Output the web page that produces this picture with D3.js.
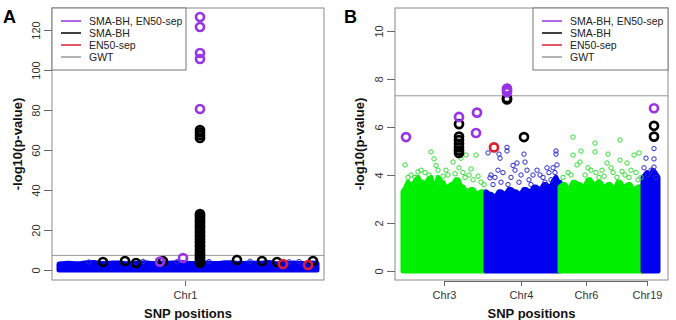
<!DOCTYPE html>
<html><head><meta charset="utf-8">
<script src="https://cdn.jsdelivr.net/npm/d3@7"></script>
<style>body{margin:0;background:#fff} svg{display:block} text{font-family:"Liberation Sans",Arial,sans-serif}</style>
</head><body><svg id="c" width="676" height="320"></svg>
<script>
// ---------------- DATA ----------------
const legendNames = ["SMA-BH, EN50-sep", "SMA-BH", "EN50-sep", "GWT"];
const gwtThreshold = 7.3;

// Panel A (chromosome 1 only)
const aChroms = ["Chr1"];
const aTickPos = [126];
const aYTicks = [0, 20, 40, 60, 80, 100, 120];
const aEnvPos = [0, 6, 10, 16, 22, 28, 35, 41, 48, 54, 60, 66, 73, 79, 86, 92, 98, 104, 110, 117, 123, 129, 135, 141, 148, 154, 160, 166, 172, 179, 185, 191, 197, 204, 210, 216, 222, 228, 235, 241, 247, 252, 258];
const aEnvTop = [3.0, 3.3, 3.4, 3.1, 3.2, 3.6, 3.7, 3.3, 3.3, 3.5, 3.5, 3.2, 3.1, 3.4, 3.6, 3.3, 3.3, 3.5, 3.4, 3.6, 3.8, 3.4, 3.2, 3.5, 3.5, 3.3, 3.3, 3.6, 3.6, 3.3, 3.2, 3.5, 3.4, 3.5, 3.7, 3.3, 3.1, 3.4, 3.5, 3.2, 3.3, 3.5, 3.4];
const aScatter = [[191, 4.4], [150, 4.2], [84, 4.3], [230, 4.1], [30, 4.0], [118, 4.1], [240, 4.2]];
const aSmaBh = [[44, 4.0], [66, 4.5], [77, 3.5], [104, 4.4],
  [141, 3.6], [141, 4.5], [141, 5.6], [141, 6.4], [141, 7.5], [141, 8.3], [141, 9.4], [141, 10.2], [141, 11.5],
  [141, 12.3], [141, 13.6], [141, 14.4], [141, 15.5], [141, 16.6], [141, 17.3], [141, 18.5], [141, 19.4],
  [141, 20.6], [141, 21.5], [141, 22.4], [141, 23.6], [141, 24.5], [141, 25.4], [141, 26.5], [141, 27.3], [141, 28.0],
  [141, 66.0], [141, 67.4], [141, 68.8], [141, 70.0],
  [178, 5.0], [203, 4.5], [218, 4.0], [254, 4.5]];
const aEn50 = [[224, 3.0], [249, 2.5]];
const aBoth = [[101, 4.2], [124, 6.0], [141, 80.5], [141, 105.5], [141, 108.5], [141, 121.5], [141, 126.5]];

// Panel B (chromosomes 3, 4, 6, 19)
const bChroms = ["Chr3", "Chr4", "Chr6", "Chr19"];
const bTickPos = [41, 118, 183, 244];
const bYTicks = [0, 2, 4, 6, 8, 10];
const bEnvPos = [
  [0, 3, 5, 8, 10, 13, 15, 18, 20, 23, 25, 28, 30, 33, 35, 38, 40, 43, 45, 48, 50, 53, 55, 58, 60, 63, 65, 68, 70, 73, 75, 78, 80, 83],
  [83, 86, 88, 91, 93, 96, 98, 101, 103, 106, 108, 111, 113, 116, 118, 121, 123, 126, 128, 131, 133, 136, 138, 141, 143, 146, 148, 151, 153, 155, 157],
  [157, 160, 162, 165, 167, 170, 172, 175, 177, 180, 182, 185, 187, 190, 192, 195, 197, 200, 202, 205, 207, 210, 212, 215, 217, 220, 222, 225, 227, 230, 232, 235, 237, 240],
  [240, 242, 244, 246, 248, 250, 252, 255]];
const bEnvTop = [
  [3.3, 3.5, 3.7, 3.5, 3.6, 3.8, 3.9, 3.6, 3.7, 3.5, 3.8, 3.9, 3.6, 3.5, 3.9, 3.7, 3.7, 3.4, 3.5, 3.6, 3.6, 3.8, 3.8, 3.5, 3.5, 3.3, 3.3, 3.4, 3.4, 3.2, 3.2, 3.3, 3.3, 3.1],
  [3.3, 3.2, 3.2, 3.1, 3.1, 3.3, 3.3, 3.2, 3.2, 3.4, 3.4, 3.3, 3.3, 3.2, 3.2, 3.4, 3.4, 3.3, 3.3, 3.5, 3.5, 3.4, 3.4, 3.6, 3.6, 3.5, 3.5, 3.8, 3.9, 3.7, 3.7],
  [3.5, 3.6, 3.6, 3.4, 3.4, 3.7, 3.7, 3.6, 3.6, 3.5, 3.5, 3.8, 3.8, 3.6, 3.6, 3.7, 3.7, 3.5, 3.5, 3.6, 3.6, 3.4, 3.4, 3.7, 3.7, 3.5, 3.5, 3.6, 3.6, 3.4, 3.4, 3.5, 3.5, 3.6],
  [3.9, 4.0, 4.1, 4.0, 4.0, 4.2, 4.1, 3.9]];
const bScatterGreen = [[28, 4.96], [31, 4.67], [63, 4.83], [73, 4.83], [2, 4.42], [15, 4.13], [50, 4.54],
  [8, 4.0], [12, 3.9], [22, 4.1], [35, 4.2], [40, 3.95], [45, 4.0], [56, 4.3], [58, 4.7], [60, 4.1], [66, 4.0], [70, 3.8], [78, 3.7],
  [5, 3.9], [18, 4.2], [26, 4.0], [33, 4.4], [43, 4.2], [52, 4.05], [62, 3.9], [68, 4.25], [75, 3.95], [81, 3.6],
  [170, 5.58], [178, 5.0], [192, 5.33], [192, 4.96], [205, 4.87], [217, 5.46], [217, 4.62], [231, 4.83], [236, 4.92],
  [170, 4.83], [177, 4.54], [174, 4.42], [204, 4.5], [199, 4.2], [224, 4.5],
  [160, 3.9], [165, 4.1], [182, 4.0], [188, 4.2], [196, 3.9], [210, 4.1], [214, 3.9], [222, 4.0], [228, 4.2], [235, 3.8],
  [168, 4.0], [185, 4.3], [193, 4.1], [201, 3.95], [208, 4.3], [219, 4.15], [226, 3.9], [233, 4.1], [238, 3.9]];
const bScatterBlue = [[85, 4.92], [104, 5.15], [104, 5.0], [96, 4.87], [97, 4.7], [114, 4.5], [87, 3.88], [95, 4.2],
  [122, 4.54], [121, 4.87], [153, 5.0], [153, 4.87], [154, 4.42], [134, 4.2], [144, 4.3], [152, 4.1],
  [88, 4.0], [92, 3.9], [100, 4.1], [108, 3.9], [112, 4.2], [118, 4.0], [126, 3.8], [130, 4.0], [140, 3.9], [148, 3.8],
  [90, 3.6], [98, 3.7], [105, 3.6], [110, 4.4], [116, 3.7], [124, 4.2], [128, 3.6], [137, 4.0], [142, 3.7], [146, 4.1], [150, 4.3],
  [251, 5.1], [243, 4.7], [251, 4.67], [251, 4.33], [245, 4.0], [248, 4.2], [253, 3.9], [241, 4.3]];
const bSmaBh = [[56, 6.12], [56, 5.6], [56, 5.45], [56, 5.3], [56, 5.15], [56, 5.02], [56, 4.92],
  [104, 7.2], [104, 7.15], [121, 5.58], [251, 6.05], [251, 5.6]];
const bEn50 = [[91, 5.15]];
const bBoth = [[3, 5.58], [56, 6.42], [74, 6.6], [73, 5.75], [104, 7.45], [104, 7.52], [104, 7.6], [251, 6.78]];

// ---------------- STYLE ----------------
const COL = {both: "#9933e6", sma: "#000000", en: "#dd1f30", gwt: "#999999",
  blue: "#0000f0", blueC: "#2a2ad0", green: "#00f000", greenC: "#33dd33"};
const svg = d3.select("#c");

function panel(cfg) {
  const g = svg.append("g");
  const x = d3.scaleLinear().domain(cfg.xDomain).range([cfg.left, cfg.right]);
  const y = d3.scaleLinear().domain(cfg.yDomain).range([cfg.bottom, cfg.top]);
  const clipId = "clip" + cfg.id;
  svg.append("clipPath").attr("id", clipId).append("rect")
    .attr("x", cfg.left).attr("y", cfg.top).attr("width", cfg.right - cfg.left).attr("height", cfg.bottom - cfg.top);
  const pg = g.append("g").attr("clip-path", `url(#${clipId})`);

  cfg.env.forEach(e => {
    const pts = e.pos.map((p, k) => [p, e.top[k]]);
    const area = d3.area().x(d => x(d[0])).y0(y(0)).y1(d => y(d[1]));
    pg.append("path").datum(pts).attr("d", area)
      .attr("fill", e.color).attr("stroke", e.color).attr("stroke-width", 5).attr("stroke-linejoin", "round");
  });
  cfg.scatter.forEach(s => {
    pg.selectAll(null).data(s.data).enter().append("circle")
      .attr("cx", d => x(d[0])).attr("cy", d => y(d[1])).attr("r", 2.2)
      .attr("fill", "none").attr("stroke", s.color).attr("stroke-width", 1);
  });
  pg.append("line").attr("x1", cfg.left).attr("x2", cfg.right)
    .attr("y1", y(gwtThreshold)).attr("y2", y(gwtThreshold)).attr("stroke", COL.gwt).attr("stroke-width", 1);
  [[cfg.sma, COL.sma], [cfg.en, COL.en], [cfg.both, COL.both]].forEach(([data, c]) => {
    pg.selectAll(null).data(data).enter().append("circle")
      .attr("cx", d => x(d[0])).attr("cy", d => y(d[1])).attr("r", 4)
      .attr("fill", "none").attr("stroke", c).attr("stroke-width", 2.7);
  });

  g.append("rect").attr("x", cfg.left).attr("y", cfg.top).attr("width", cfg.right - cfg.left)
    .attr("height", cfg.bottom - cfg.top).attr("fill", "none").attr("stroke", "#8a8a8a").attr("stroke-width", 1);

  const ya = g.append("g").attr("transform", `translate(${cfg.left},0)`)
    .call(d3.axisLeft(y).tickValues(cfg.yTicks).tickSize(8).tickFormat(d3.format("d")));
  ya.select(".domain").remove();
  ya.selectAll("line").attr("stroke", "#666");
  ya.selectAll("text").attr("x", null).attr("dy", null).attr("text-anchor", "middle")
    .attr("transform", "translate(-12,0) rotate(-90)")
    .attr("fill", "#333").style("font-size", "11px").style("font-family", '"Liberation Sans",Arial,sans-serif');

  const xa = g.append("g").attr("transform", `translate(0,${cfg.bottom + 1})`)
    .call(d3.axisBottom(x).tickValues(cfg.tickPos).tickSize(5).tickFormat((d, i) => cfg.tickLabels[i]));
  xa.select(".domain").attr("d", `M${x(cfg.tickPos[0])},0.5H${x(cfg.tickPos[cfg.tickPos.length - 1])}`).attr("stroke", "#666");
  xa.selectAll("line").attr("stroke", "#666");
  xa.selectAll("text").attr("y", 14).attr("dy", "0.32em").attr("fill", "#333")
    .style("font-size", "11px").style("font-family", '"Liberation Sans",Arial,sans-serif');

  g.append("text").attr("x", (cfg.left + cfg.right) / 2).attr("y", 318).attr("text-anchor", "middle")
    .style("font-size", "13px").style("font-weight", "bold").attr("fill", "#111").text("SNP positions");
  g.append("text").attr("transform", `translate(${cfg.ytitleX},${(cfg.top + cfg.bottom) / 2}) rotate(-90)`)
    .attr("text-anchor", "middle").style("font-size", "13px").style("font-weight", "bold").attr("fill", "#111")
    .text("-log10(p-value)");
  g.append("text").attr("x", cfg.letterX).attr("y", 23).style("font-size", "18px").style("font-weight", "bold")
    .attr("fill", "#000").text(cfg.letter);

  const lg = g.append("g");
  lg.append("rect").attr("x", cfg.legX).attr("y", cfg.top).attr("width", cfg.legW).attr("height", 62)
    .attr("fill", "#fff").attr("stroke", "#777").attr("stroke-width", 1);
  const lcols = [COL.both, COL.sma, COL.en, COL.gwt];
  legendNames.forEach((n, i) => {
    const yy = cfg.top + 13 + i * 12;
    lg.append("line").attr("x1", cfg.legX + 9).attr("x2", cfg.legX + 29).attr("y1", yy).attr("y2", yy)
      .attr("stroke", lcols[i]).attr("stroke-width", 1.5);
    lg.append("text").attr("x", cfg.legX + 37).attr("y", yy).attr("dy", "0.36em")
      .style("font-size", "10.5px").attr("fill", "#222").text(n);
  });
}

panel({id: "A", left: 52, right: 324, top: 8, bottom: 280, xDomain: [-7, 265], yDomain: [-5, 131],
  yTicks: aYTicks, tickPos: aTickPos, tickLabels: aChroms,
  env: [{pos: aEnvPos, top: aEnvTop, color: COL.blue}],
  scatter: [{data: aScatter, color: COL.blueC}],
  sma: aSmaBh, en: aEn50, both: aBoth,
  ytitleX: 22, letter: "A", letterX: 3, legX: 52, legW: 134});

panel({id: "B", left: 395, right: 668, top: 8, bottom: 280, xDomain: [-8, 265], yDomain: [-0.375, 10.958],
  yTicks: bYTicks, tickPos: bTickPos, tickLabels: bChroms,
  env: bEnvPos.map((p, i) => ({pos: p, top: bEnvTop[i], color: i % 2 === 0 ? COL.green : COL.blue})),
  scatter: [{data: bScatterGreen, color: COL.greenC}, {data: bScatterBlue, color: COL.blueC}],
  sma: bSmaBh, en: bEn50, both: bBoth,
  ytitleX: 364, letter: "B", letterX: 344, legX: 533, legW: 135});
</script></body></html>
